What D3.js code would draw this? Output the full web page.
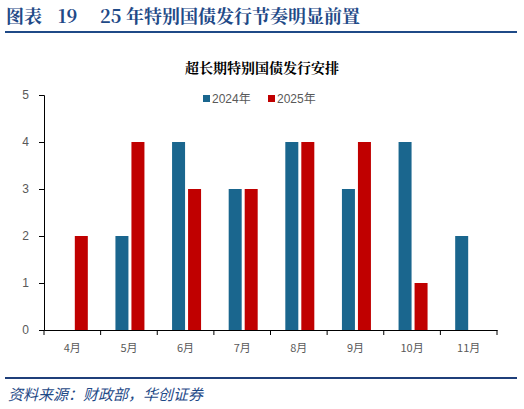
<!DOCTYPE html><html><head><meta charset="utf-8"><script src="https://cdn.jsdelivr.net/npm/d3@7"></script>
<style>body{margin:0;background:#fff}</style></head><body><svg id="c" width="524" height="409"></svg>
<script>
const categories=["4月","5月","6月","7月","8月","9月","10月","11月"];
const series=["2024年","2025年"];
const v2024=[0,2,4,3,4,3,4,2];
const v2025=[2,4,3,3,4,4,1,0];
const yTicks=[0,1,2,3,4,5];
const colors=["#1a668e","#c00000"];
const svg=d3.select("#c");
const blue="#1f4a87";
const tf="'Noto Serif CJK SC','Noto Sans CJK SC',serif";
const t=svg.append("text").attr("y",23).attr("fill",blue).attr("font-family",tf).attr("font-weight","bold").attr("font-size",18);
t.append("tspan").attr("x",6).text("图表");
t.append("tspan").attr("x",58).text("19");
t.append("tspan").attr("x",100).text("25 年特别国债发行节奏明显前置");
svg.append("rect").attr("x",5).attr("y",31).attr("width",512).attr("height",2).attr("fill",blue);
svg.append("text").attr("x",262).attr("y",73).attr("text-anchor","middle").attr("font-family",tf).attr("font-weight","bold").attr("font-size",14).text("超长期特别国债发行安排");
const x=d3.scaleBand().domain(categories).range([44,497]);
const y=d3.scaleLinear().domain([0,5]).range([330,95]);
const g=svg.append("g");
const ax=g.append("g").attr("transform","translate(0,330)").call(d3.axisBottom(x).tickSize(0).tickPadding(14).tickFormat(d=>d));
ax.select(".domain").attr("stroke","#000");
ax.selectAll("text").attr("fill","#595959").attr("font-size",11).attr("font-family","'Noto Sans CJK SC'");
d3.range(categories.length+1).forEach(i=>{const xx=44+i*x.step();g.append("line").attr("x1",xx).attr("x2",xx).attr("y1",330).attr("y2",335).attr("stroke","#000");});
const ay=g.append("g").attr("transform","translate(44,0)").call(d3.axisLeft(y).tickValues(yTicks).tickSize(5).tickPadding(10).tickFormat(d3.format("d")));
ay.select(".domain").attr("stroke","#000");
ay.selectAll("text").attr("fill","#595959").attr("font-size",12).attr("font-family","Arial,'Liberation Sans'");
const bw=13,gap=3;
[v2024,v2025].forEach((vals,si)=>{
 g.selectAll(null).data(vals).enter().append("rect")
  .attr("x",(d,i)=>x(categories[i])+x.bandwidth()/2+(si===0?-bw-gap/2+1:gap/2+1))
  .attr("y",d=>y(d)).attr("width",bw).attr("height",d=>330-y(d)).attr("fill",colors[si]);
});
const lg=svg.append("g");
[[203,0],[268,1]].forEach(([lx,i])=>{
 lg.append("rect").attr("x",lx).attr("y",95).attr("width",7).attr("height",7).attr("fill",colors[i]);
 lg.append("text").attr("x",lx+9).attr("y",103).attr("font-size",12).attr("fill","#595959").attr("font-family","Arial,'Noto Sans CJK SC'").text(series[i]);
});
svg.append("rect").attr("x",5).attr("y",377).attr("width",512).attr("height",2).attr("fill","#1f3f7a");
svg.append("text").attr("x",8).attr("y",400).attr("fill",blue).attr("font-style","italic").attr("font-size",15).attr("font-family","'Noto Sans CJK SC'").text("资料来源：财政部，华创证券");
</script></body></html>
